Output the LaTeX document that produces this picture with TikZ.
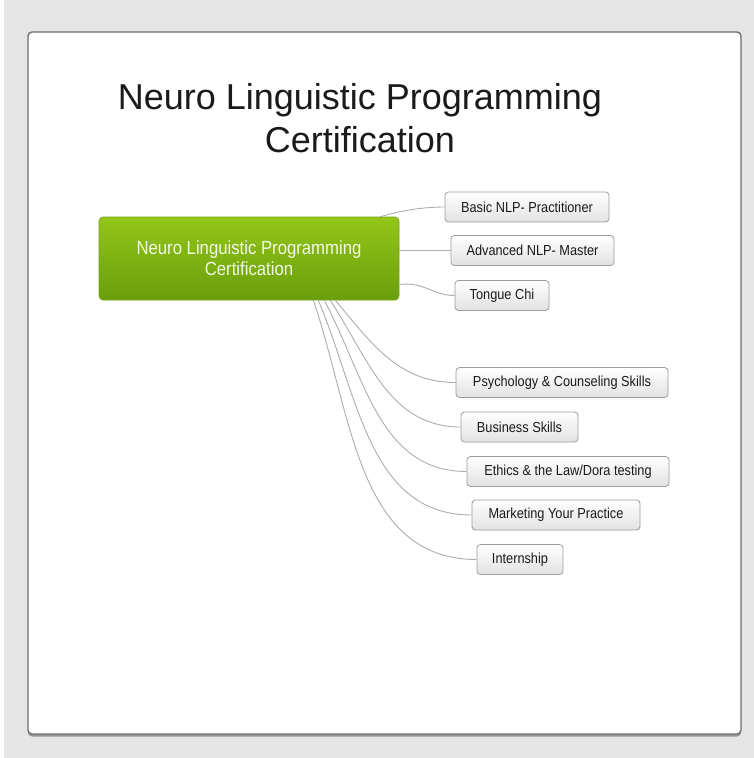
\documentclass[tikz,border=0pt]{standalone}
\usepackage{fontspec}
\setmainfont{Liberation Sans}
\newfontfamily\narrowfont[FakeStretch=0.88]{Liberation Sans}
\usetikzlibrary{shadows}
\definecolor{bggray}{HTML}{E5E5E5}
\definecolor{panelborder}{HTML}{6E6E6E}
\definecolor{greentop}{HTML}{93C618}
\definecolor{greenbot}{HTML}{6A9E0C}
\definecolor{greenborder}{HTML}{74A414}
\definecolor{greentext}{HTML}{F2F9E6}
\definecolor{boxborder}{HTML}{9C9C9C}
\definecolor{boxbot}{HTML}{E2E2E2}
\definecolor{linkgray}{HTML}{ADADAD}
\definecolor{txtdark}{HTML}{1A1A1A}
\tikzset{
  panel/.style={draw=panelborder, line width=1.4pt, fill=white, rounded corners=4pt,
    drop shadow={shadow xshift=0pt, shadow yshift=-2.5pt, opacity=0.35, fill=black}},
  rootbox/.style={draw=greenborder, line width=0.6pt, rounded corners=4pt,
    top color=greentop, bottom color=greenbot, text=greentext,
    font=\narrowfont\fontsize{19}{21}\selectfont, align=center,
    minimum width=300pt, minimum height=83pt, inner sep=0pt},
  leaf/.style={draw=boxborder, line width=0.8pt, rounded corners=3.5pt,
    top color=white, bottom color=boxbot, text=txtdark,
    font=\narrowfont\fontsize{14.5}{16}\selectfont,
    minimum height=30pt, inner sep=0pt, anchor=center},
  link/.style={draw=linkgray, line width=0.9pt},
  titletext/.style={font=\fontsize{36}{43}\selectfont, text=txtdark, align=center}
}
\begin{document}
\begin{tikzpicture}[x=1pt,y=-1pt]
\useasboundingbox (0,0) rectangle (754,758);
\fill[bggray] (0,0) rectangle (754,758);
\fill[white] (0,0) rectangle (3.5,758);
\path[panel] (28,32) rectangle (741,734);

\node[titletext] (title) at (360,118) {Neuro Linguistic Programming\\Certification};

\node[rootbox] (root) at (249,258.5) {Neuro Linguistic Programming\\Certification};

\node[leaf, minimum width=164pt] (b1) at (527,207) {Basic NLP- Practitioner};
\node[leaf, minimum width=163pt] (b2) at (532.5,250.5) {Advanced NLP- Master};
\node[leaf, minimum width=94pt] (b3) at (502,295.5) {Tongue Chi};
\node[leaf, minimum width=212pt] (b4) at (562,382.5) {Psychology \& Counseling Skills};
\node[leaf, minimum width=117pt] (b5) at (519.5,427) {Business Skills};
\node[leaf, minimum width=202pt] (b6) at (568,471.5) {Ethics \& the Law/Dora testing};
\node[leaf, minimum width=168pt] (b7) at (556,515) {Marketing Your Practice};
\node[leaf, minimum width=86pt] (b8) at (520,559.5) {Internship};

\draw[link] ([xshift=-19pt]root.north east) .. controls +(20,-6) and +(-22,0) .. (b1.west);
\draw[link] ([yshift=8pt]root.east) -- (b2.west);
\draw[link] ([yshift=-26pt]root.east) .. controls +(25,-3) and +(-22,0) .. (b3.west);
\draw[link] ([xshift=-64pt]root.south east) to[out=-50,in=180] (b4.west);
\draw[link] ([xshift=-69pt]root.south east) to[out=-57,in=180] (b5.west);
\draw[link] ([xshift=-75pt]root.south east) to[out=-62,in=180] (b6.west);
\draw[link] ([xshift=-81pt]root.south east) to[out=-67,in=180] (b7.west);
\draw[link] ([xshift=-86pt]root.south east) to[out=-71,in=180] (b8.west);
\end{tikzpicture}
\end{document}
